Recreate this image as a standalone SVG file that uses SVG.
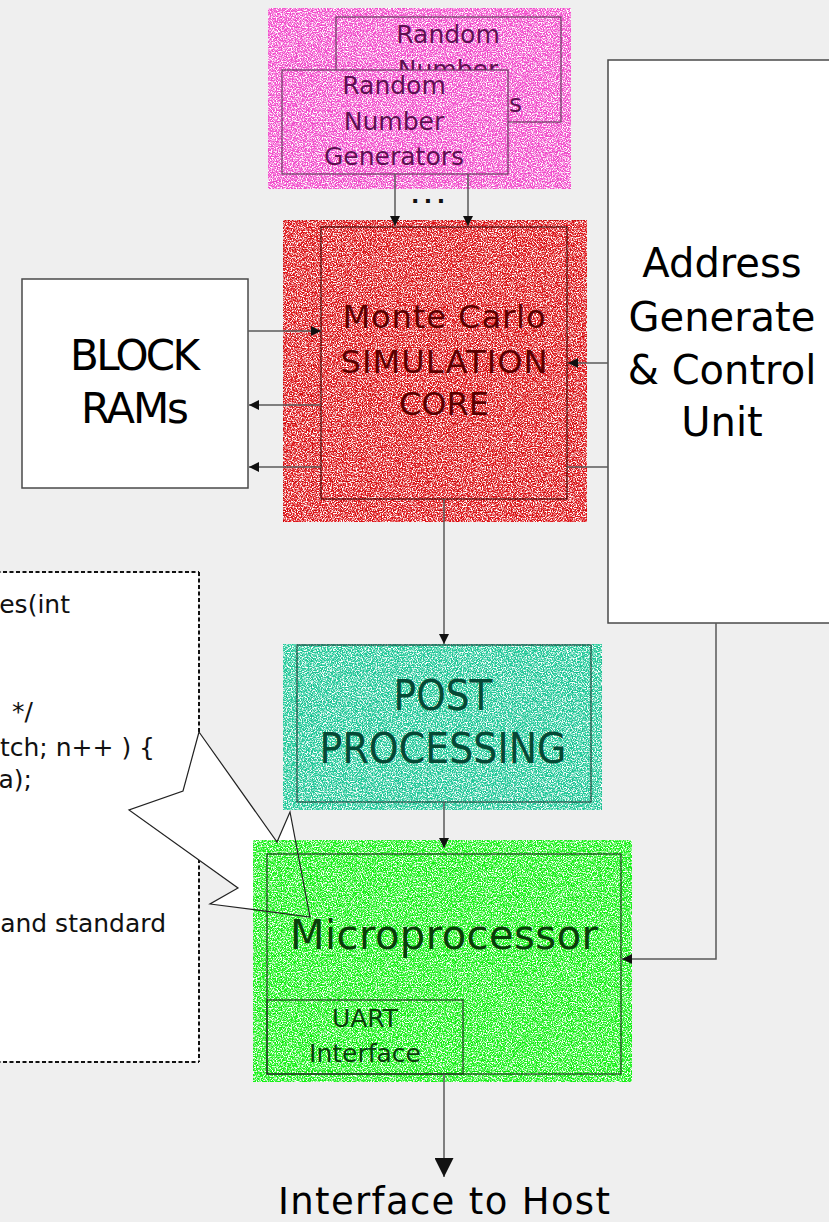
<svg xmlns="http://www.w3.org/2000/svg" width="829" height="1222" viewBox="0 0 829 1222">
  <defs>
    <style>
      text { font-family: "DejaVu Sans", "Liberation Sans", sans-serif; }
      .wire { fill: none; stroke: #5a5a5a; stroke-width: 1.5; }
      .box { fill: #ffffff; stroke: #4a4a4a; stroke-width: 1.5; }
      .inner { fill: none; stroke-width: 1.2; }
      .mid { text-anchor: middle; }
      .code { font-size: 25px; fill: #111; text-anchor: end; }
      .dash { fill: none; stroke: #111; stroke-width: 2; stroke-dasharray: 4 2.5; }
      .pointer { fill: none; stroke: #222; stroke-width: 1.2; stroke-linejoin: miter; }
      .grain { fill: #ffffff; filter: url(#grain); }
    </style>
    <marker id="arr" viewBox="0 0 10 10" refX="10" refY="5" markerWidth="11" markerHeight="10" markerUnits="userSpaceOnUse" orient="auto">
      <path d="M0,0 L10,5 L0,10 z" fill="#111"/>
    </marker>
    <marker id="arrBig" viewBox="0 0 10 10" refX="10" refY="5" markerWidth="20" markerHeight="19" markerUnits="userSpaceOnUse" orient="auto">
      <path d="M0,0 L10,5 L0,10 z" fill="#111"/>
    </marker>
    <pattern id="gridRed" width="29" height="29" patternUnits="userSpaceOnUse" x="284" y="221">
      <path d="M29,0 V29 M0,29 H29" fill="none" stroke="#c40000" stroke-width="1.3"/>
    </pattern>
    <pattern id="gridPink" width="29" height="29" patternUnits="userSpaceOnUse" x="268" y="8">
      <path d="M29,0 V29 M0,29 H29" fill="none" stroke="#e03cb8" stroke-width="1"/>
    </pattern>
    <pattern id="gridTeal" width="29" height="29" patternUnits="userSpaceOnUse" x="283" y="644">
      <path d="M29,0 V29 M0,29 H29" fill="none" stroke="#14b088" stroke-width="1"/>
    </pattern>
    <pattern id="gridGreen" width="29" height="29" patternUnits="userSpaceOnUse" x="253" y="840">
      <path d="M29,0 V29 M0,29 H29" fill="none" stroke="#00e000" stroke-width="1.3"/>
    </pattern>
    <!-- white speckle used on the coloured blocks -->
    <filter id="grain" x="0" y="0" width="1" height="1" filterUnits="objectBoundingBox">
      <feTurbulence type="fractalNoise" baseFrequency="0.8" numOctaves="2" seed="7"/>
      <feColorMatrix type="matrix" values="0 0 0 0 1  0 0 0 0 1  0 0 0 0 1  4 0 0 0 -1.7"/>
    </filter>
    <!-- the front generator box hides part of the one behind it -->
    <clipPath id="behindFront">
      <path d="M268,8 H571 V189 H268 Z M282,70 V174 H508 V70 Z" clip-rule="evenodd"/>
    </clipPath>
  </defs>

  <rect x="0" y="0" width="829" height="1222" fill="#efefef"/>

  <!-- code callout -->
  <g id="code-callout">
    <rect x="-10" y="573" width="208" height="488" fill="#ffffff"/>
    <path class="dash" d="M199,572 V732 M199,833 V1062 M-10,572 H199 M-10,1062 H199"/>
    <polygon points="199,732 277,842 290,812 310,917 210,904 238,888 129,810 183,791" fill="#ffffff"/>
    <text class="code" x="70" y="613">es(int</text>
    <text class="code" x="33" y="720">*/</text>
    <text class="code" x="155" y="756">tch; n++ ) {</text>
    <text class="code" x="32" y="788">a);</text>
    <text class="code" x="166" y="932">and standard</text>
  </g>

  <!-- random number generator bank -->
  <g id="rng">
    <rect x="268" y="8" width="303" height="181" fill="#f24ccb"/>
    <rect x="268" y="8" width="303" height="181" fill="url(#gridPink)"/>
    <rect class="grain" x="268" y="8" width="303" height="181"/>
    <g id="rng-back" clip-path="url(#behindFront)">
      <rect x="336" y="17" width="225" height="105" fill="none" stroke="#6a3a62" stroke-width="1.2"/>
      <g font-size="25" fill="#5e0f52">
        <text class="mid" x="448" y="43">Random</text>
        <text class="mid" x="448" y="78">Number</text>
        <text x="509" y="112">s</text>
      </g>
    </g>
    <g id="rng-front">
      <rect x="282" y="70" width="226" height="104" fill="#f24ccb"/>
      <rect x="282" y="70" width="226" height="104" fill="url(#gridPink)"/>
      <rect class="grain" x="282" y="70" width="226" height="104"/>
      <rect x="282" y="70" width="226" height="104" fill="none" stroke="#6a3a62" stroke-width="1.2"/>
      <g font-size="25" fill="#5e0f52" class="mid">
        <text x="394" y="94">Random</text>
        <text x="394" y="130">Number</text>
        <text x="394" y="165">Generators</text>
      </g>
    </g>
    <text x="411" y="203" font-size="22" font-weight="bold" fill="#111" letter-spacing="4.5">...</text>
  </g>

  <!-- block RAMs -->
  <g id="block-rams">
    <rect class="box" x="22" y="279" width="226" height="209" stroke="#222"/>
    <text class="mid" x="135" y="370" font-size="42" fill="#000" textLength="130">BLOCK</text>
    <text class="mid" x="135" y="423" font-size="42" fill="#000" textLength="108">RAMs</text>
  </g>

  <!-- Monte Carlo core -->
  <g id="mc-core">
    <rect x="283" y="220" width="304" height="302" fill="#dc1418"/>
    <rect x="283" y="220" width="304" height="302" fill="url(#gridRed)"/>
    <rect class="grain" x="283" y="220" width="304" height="302"/>
    <rect class="inner" x="321" y="227" width="246" height="272" stroke="#4a0505"/>
    <g class="mid" font-size="32" fill="#5c0000">
      <text x="444" y="328" textLength="203">Monte Carlo</text>
      <text x="444" y="373" textLength="207">SIMULATION</text>
      <text x="444" y="415" textLength="90">CORE</text>
    </g>
  </g>

  <!-- address generate and control -->
  <g id="addr-ctrl">
    <rect class="box" x="608" y="60" width="240" height="563"/>
    <g class="mid" font-size="40" fill="#000">
      <text x="722" y="277">Address</text>
      <text x="722" y="331">Generate</text>
      <text x="722" y="384">&amp; Control</text>
      <text x="722" y="436">Unit</text>
    </g>
  </g>

  <!-- post processing -->
  <g id="post">
    <rect x="283" y="644" width="319" height="166" fill="#1ec897"/>
    <rect x="283" y="644" width="319" height="166" fill="url(#gridTeal)"/>
    <rect class="grain" x="283" y="644" width="319" height="166"/>
    <rect class="inner" x="297" y="645" width="294" height="157" stroke="#1f4a40"/>
    <g class="mid" font-size="42" fill="#064a36">
      <text x="443" y="710" textLength="99" lengthAdjust="spacingAndGlyphs">POST</text>
      <text x="443" y="763" textLength="247" lengthAdjust="spacingAndGlyphs">PROCESSING</text>
    </g>
  </g>

  <!-- microprocessor -->
  <g id="micro">
    <rect x="253" y="840" width="379" height="242" fill="#16f016"/>
    <rect x="253" y="840" width="379" height="242" fill="url(#gridGreen)"/>
    <rect class="grain" x="253" y="840" width="379" height="242"/>
    <rect class="inner" x="267" y="854" width="354" height="220" stroke="#1c3c1c"/>
    <text class="mid" x="444" y="949" font-size="40" fill="#0a400a" textLength="308">Microprocessor</text>
    <g id="uart">
      <rect class="inner" x="267" y="1000" width="196" height="74" stroke="#1c3c1c"/>
      <text class="mid" x="365" y="1027" font-size="25" fill="#0a400a">UART</text>
      <text class="mid" x="365" y="1062" font-size="25" fill="#0a400a">Interface</text>
    </g>
  </g>

  <!-- host side -->
  <g id="host">
    <text class="mid" x="444" y="1214" font-size="37" fill="#000" textLength="332">Interface to Host</text>
  </g>

  <!-- connectors -->
  <g id="connectors">
    <line class="wire" x1="395" y1="174" x2="395" y2="226" marker-end="url(#arr)"/>
    <line class="wire" x1="468" y1="174" x2="468" y2="226" marker-end="url(#arr)"/>
    <line class="wire" x1="248" y1="331" x2="321" y2="331" marker-end="url(#arr)"/>
    <line class="wire" x1="321" y1="405" x2="249" y2="405" marker-end="url(#arr)"/>
    <line class="wire" x1="321" y1="467" x2="249" y2="467" marker-end="url(#arr)"/>
    <line class="wire" x1="608" y1="363" x2="568" y2="363" marker-end="url(#arr)"/>
    <line class="wire" x1="608" y1="467" x2="567" y2="467"/>
    <line class="wire" x1="444" y1="499" x2="444" y2="644" marker-end="url(#arr)"/>
    <line class="wire" x1="444" y1="802" x2="444" y2="848" marker-end="url(#arr)"/>
    <polyline class="wire" points="716,623 716,959 622,959" marker-end="url(#arr)"/>
    <line class="wire" x1="444" y1="1074" x2="444" y2="1177" marker-end="url(#arrBig)"/>
  </g>

  <!-- callout pointer outline -->
  <g id="code-callout-pointer">
    <polygon class="pointer" points="199,732 277,842 290,812 310,917 210,904 238,888 129,810 183,791"/>
  </g>
</svg>
